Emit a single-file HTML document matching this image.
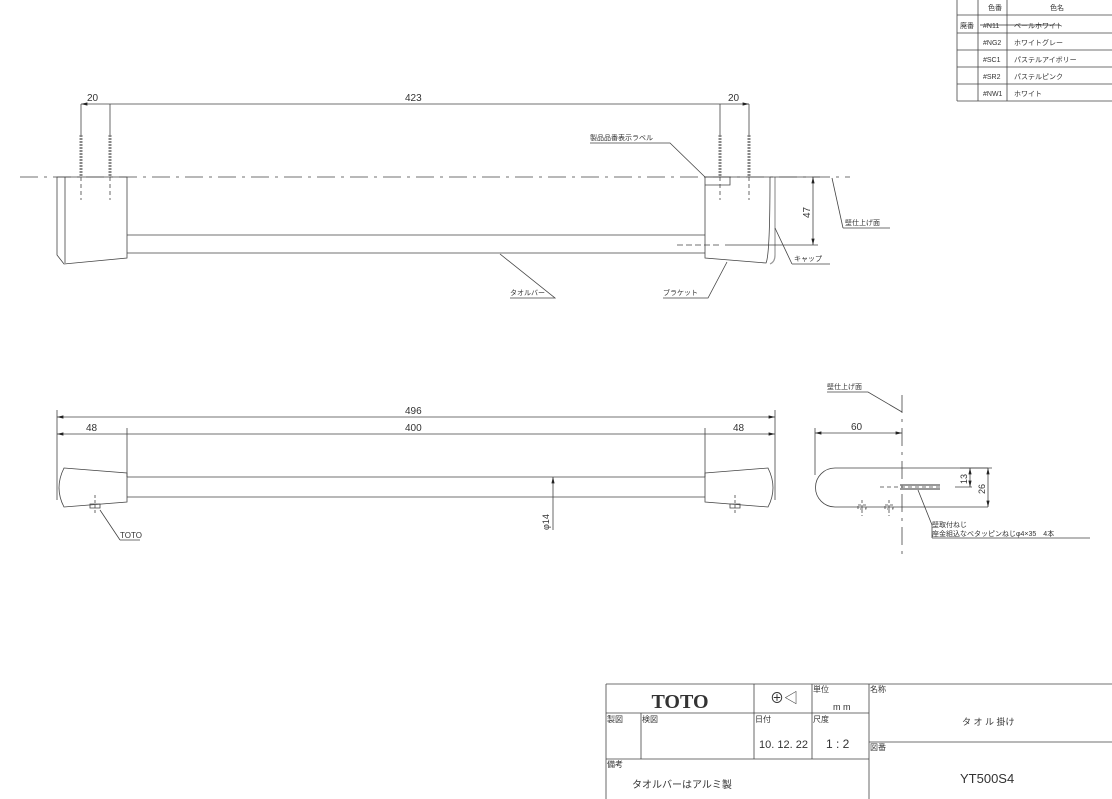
<!DOCTYPE html>
<html><head><meta charset="utf-8"><style>
body{margin:0;background:#fff}
svg{display:block}
text{font-family:"Liberation Sans","Noto Sans CJK JP",sans-serif;fill:#333}
.t{font-size:8px}
</style></head><body>
<svg width="1112" height="799" viewBox="0 0 1112 799" xmlns="http://www.w3.org/2000/svg">
<defs><marker id="a" markerWidth="8" markerHeight="6" refX="8" refY="3" orient="auto-start-reverse"><path d="M0,1 L8,3 L0,5z" fill="#222"/></marker></defs>
<g stroke="#444" stroke-width="0.8" fill="none">
<path d="M957,0V101 M978,0V101 M1007,0V101 M957,15H1112 M957,33H1112 M957,50H1112 M957,67H1112 M957,84H1112 M957,101H1112"/>
<path d="M20,177H850" stroke-dasharray="18,6,3,6"/>
<path d="M81,104V135 M110,104V135 M720,104V135 M749,104V135"/>
<path d="M81,104H110 M110,104H720 M720,104H749" marker-start="url(#a)" marker-end="url(#a)"/>
<g stroke="#888" stroke-width="3" stroke-dasharray="2,1"><path d="M81,135V177 M110,135V177 M720,135V177 M749,135V177"/></g>
<path d="M81,177V200 M110,177V200 M720,177V200 M749,177V200" stroke-dasharray="4,3"/>
<path d="M57,177V255L64,264L127,258V177Z M65,177V263"/>
<path d="M127,235H705 M127,253H705"/>
<path d="M705,177V258L766,263Q770,255 770,177 M705,177H766"/>
<path d="M775,177V255Q775,262 770,264" stroke="#999" stroke-width="1.2"/>
<path d="M705,177H730V185H705"/>
<path d="M813,177V245" marker-start="url(#a)" marker-end="url(#a)"/>
<path d="M766,177H820 M725,245H818"/>
<path d="M677,245H720" stroke-dasharray="6,3"/>
<path d="M590,143H670L705,177 M843,228L832,178 M843,228H890 M792,264L775,228 M792,264H830 M663,298H708L727,262 M510,298H555L500,254"/>
<path d="M57,410V500 M775,410V500 M127,428V477 M705,428V477"/>
<path d="M57,417H775" marker-start="url(#a)" marker-end="url(#a)"/>
<path d="M57,434H127 M127,434H705 M705,434H775" marker-start="url(#a)" marker-end="url(#a)"/>
<path d="M64,468L127,473V502L64,507Q54,488 64,468Z"/>
<path d="M127,477H705 M127,497H705"/>
<path d="M705,473L768,468Q778,488 768,507L705,502Z"/>
<path d="M90,504h10v4h-10z M730,504h10v4h-10z"/>
<path d="M95,495V515 M735,495V515" stroke-dasharray="3,2"/>
<path d="M553,477V530" marker-start="url(#a)"/>
<path d="M120,540H140 M120,540L100,510"/>
<path d="M902,395V560" stroke-dasharray="18,6,3,6"/>
<path d="M815,428V475"/>
<path d="M815,433H902" marker-start="url(#a)" marker-end="url(#a)"/>
<path d="M835,468H988 M835,507H988 M835,468A19.5,19.5 0 0 0 835,507"/>
<path d="M988,468V507" marker-start="url(#a)" marker-end="url(#a)"/>
<path d="M970,468V487" marker-start="url(#a)" marker-end="url(#a)"/>
<path d="M960,468H992 M955,487H972"/>
<path d="M880,487H940" stroke-dasharray="4,3"/>
<path d="M900,485H940 M900,489H940" stroke="#777" stroke-width="1.5"/>
<path d="M858,505h8v4h-8z M885,505h8v4h-8z M862,500V516 M889,500V516" stroke-dasharray="3,2"/>
<path d="M932,538H1090 M932,538V525L918,490 M827,392H868L902,412"/>
<path d="M606,684H1112 M606,684V799 M606,713H869 M606,759H869 M641,713V759 M754,684V759 M812,684V759 M869,684V799 M869,742H1112"/>
</g>
<g class="t">
<text x="988" y="10" font-size="7">色番</text><text x="1050" y="10" font-size="7">色名</text>
<text x="960" y="28" font-size="7">廃番</text><text x="983" y="28" font-size="7">#N11</text><text x="1014" y="28" font-size="7">ペールホワイト</text>
<path d="M980,25H1060" stroke="#333" stroke-width="0.8"/>
<text x="983" y="45" font-size="7">#NG2</text><text x="1014" y="45" font-size="7">ホワイトグレー</text>
<text x="983" y="62" font-size="7">#SC1</text><text x="1014" y="62" font-size="7">パステルアイボリー</text>
<text x="983" y="79" font-size="7">#SR2</text><text x="1014" y="79" font-size="7">パステルピンク</text>
<text x="983" y="96" font-size="7">#NW1</text><text x="1014" y="96" font-size="7">ホワイト</text>
<text x="87" y="101" font-size="10">20</text><text x="405" y="101" font-size="10">423</text><text x="728" y="101" font-size="10">20</text>
<text x="590" y="140" font-size="7">製品品番表示ラベル</text>
<text x="810" y="218" font-size="10" transform="rotate(-90 810 218)">47</text>
<text x="845" y="225" font-size="7">壁仕上げ面</text>
<text x="794" y="261" font-size="7">キャップ</text>
<text x="663" y="295" font-size="7">ブラケット</text>
<text x="510" y="295" font-size="7">タオルバー</text>
<text x="405" y="414" font-size="10">496</text>
<text x="86" y="431" font-size="10">48</text><text x="405" y="431" font-size="10">400</text><text x="733" y="431" font-size="10">48</text>
<text x="549" y="530" font-size="9" transform="rotate(-90 549 530)">φ14</text>
<text x="120" y="538" font-size="8">TOTO</text>
<text x="851" y="430" font-size="10">60</text>
<text x="827" y="389" font-size="7">壁仕上げ面</text>
<text x="967" y="484" font-size="9" transform="rotate(-90 967 484)">13</text>
<text x="985" y="494" font-size="9" transform="rotate(-90 985 494)">26</text>
<text x="932" y="527" font-size="7">壁取付ねじ</text>
<text x="932" y="536" font-size="7">座金組込なべタッピンねじφ4×35　4本</text>
<text x="680" y="708" font-size="20" font-weight="bold" text-anchor="middle" style="font-family:'Liberation Serif',serif" fill="#111">TOTO</text>
<text x="770" y="703" font-size="14">⊕◁</text>
<text x="813" y="692" font-size="8">単位</text><text x="833" y="710" font-size="9">m m</text>
<text x="870" y="692" font-size="8">名称</text>
<text x="962" y="725" font-size="9">タ オ ル 掛け</text>
<text x="607" y="722" font-size="8">製図</text><text x="642" y="722" font-size="8">検図</text>
<text x="755" y="722" font-size="8">日付</text><text x="813" y="722" font-size="8">尺度</text>
<text x="759" y="748" font-size="11" fill="#888">10. 12. 22</text>
<text x="826" y="748" font-size="12">1 : 2</text>
<text x="870" y="750" font-size="8">図番</text>
<text x="607" y="767" font-size="8">備考</text>
<text x="632" y="788" font-size="10" fill="#666">タオルバーはアルミ製</text>
<text x="960" y="783" font-size="13" fill="#777">YT500S4</text>
</g>
</svg>
</body></html>
